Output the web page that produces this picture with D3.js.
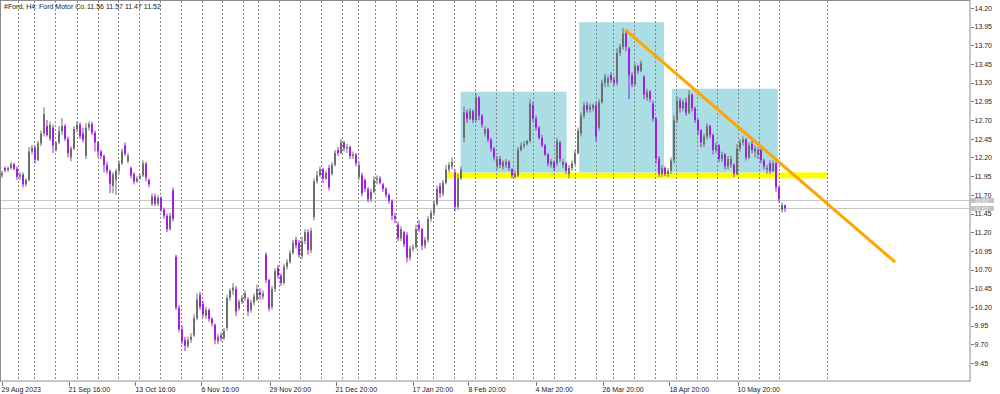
<!DOCTYPE html>
<html>
<head>
<meta charset="utf-8">
<script src="https://cdn.jsdelivr.net/npm/d3@7"></script>
<style>
  body { margin: 0; background: #ffffff; }
  svg { display: block; font-family: "Liberation Sans", Arial, sans-serif; }
  .axis text { fill: #1a1a1a; font-size: 7px; }
  .axis line { stroke: #7a7a7a; shape-rendering: crispEdges; }
</style>
</head>
<body>
<div id="chart"></div>
<script>
// Ford Motor Co. H4 bars: [open, high, low, close]
const ohlc = [
  [11.96,12.02,11.93,11.99],[12.06,12.08,12.00,12.03],[12.03,12.08,12.01,12.06],[12.06,12.14,12.04,12.11],
  [12.11,12.13,12.03,12.05],[12.05,12.08,11.90,11.94],[11.94,12.00,11.90,11.97],[11.97,12.00,11.80,11.84],
  [11.84,11.92,11.81,11.90],[11.90,12.34,11.88,12.28],[12.28,12.37,12.24,12.33],[12.33,12.36,12.12,12.17],
  [12.17,12.42,12.15,12.39],[12.39,12.56,12.35,12.52],[12.52,12.87,12.48,12.78],[12.62,12.70,12.48,12.50],
  [12.45,12.68,12.42,12.64],[12.60,12.64,12.26,12.36],[12.30,12.42,12.28,12.40],[12.40,12.62,12.38,12.55],
  [12.55,12.73,12.50,12.62],[12.62,12.65,12.42,12.45],[12.45,12.48,12.20,12.26],[12.20,12.35,12.15,12.32],
  [12.32,12.62,12.30,12.58],[12.58,12.68,12.54,12.64],[12.64,12.67,12.45,12.48],[12.52,12.60,12.40,12.44],
  [12.22,12.66,12.18,12.60],[12.60,12.68,12.56,12.65],[12.65,12.68,12.50,12.53],[12.53,12.56,12.28,12.40],
  [12.40,12.42,12.20,12.28],[12.28,12.30,12.18,12.22],[12.22,12.24,12.00,12.10],[12.10,12.14,11.98,12.02],
  [12.02,12.04,11.72,11.85],[11.82,12.00,11.72,11.97],[11.90,12.05,11.70,12.02],[12.02,12.16,11.98,12.12],
  [12.12,12.32,12.10,12.28],[12.36,12.40,12.22,12.25],[12.15,12.26,12.12,12.22],[12.06,12.08,11.92,11.96],
  [11.98,12.00,11.84,11.88],[11.88,11.95,11.86,11.92],[11.92,11.98,11.90,11.95],[11.96,12.16,11.94,12.12],
  [12.12,12.14,11.88,11.93],[11.90,11.92,11.80,11.84],[11.58,11.72,11.55,11.68],[11.68,11.72,11.55,11.58],
  [11.58,11.70,11.55,11.66],[11.66,11.68,11.47,11.50],[11.50,11.53,11.38,11.42],[11.42,11.45,11.20,11.24],
  [11.24,11.46,11.22,11.42],[11.76,11.80,11.34,11.38],[10.87,10.90,10.16,10.19],[10.19,10.22,9.86,9.90],
  [9.90,9.95,9.70,9.74],[9.76,9.80,9.61,9.68],[9.68,9.80,9.65,9.76],[9.76,9.85,9.72,9.80],
  [9.82,10.10,9.80,10.05],[10.05,10.38,10.02,10.30],[10.36,10.40,10.16,10.20],[10.24,10.28,10.06,10.10],
  [10.08,10.20,10.04,10.16],[10.16,10.18,10.00,10.04],[10.04,10.06,9.94,9.98],[9.96,9.98,9.70,9.76],
  [9.74,9.84,9.70,9.80],[9.82,9.86,9.74,9.78],[9.78,9.92,9.76,9.88],[9.92,10.36,9.88,10.32],
  [10.32,10.45,10.28,10.42],[10.42,10.52,10.36,10.46],[10.44,10.48,10.08,10.14],[10.18,10.30,10.15,10.27],
  [10.27,10.36,10.24,10.32],[10.32,10.42,10.28,10.38],[10.30,10.33,10.08,10.14],[10.16,10.30,10.12,10.26],
  [10.26,10.38,10.22,10.34],[10.30,10.50,10.28,10.44],[10.40,10.45,10.30,10.36],[10.34,10.42,10.30,10.38],
  [10.90,10.93,10.52,10.56],[10.56,10.58,10.14,10.18],[10.20,10.48,10.16,10.44],[10.44,10.72,10.40,10.68],
  [10.72,10.76,10.58,10.62],[10.62,10.65,10.48,10.52],[10.52,10.78,10.50,10.74],[10.74,10.84,10.70,10.80],
  [10.80,10.96,10.78,10.92],[10.92,11.10,10.90,11.06],[11.10,11.14,10.98,11.02],[11.06,11.10,10.86,10.90],
  [10.88,11.14,10.84,11.08],[11.08,11.24,11.04,11.20],[11.20,11.24,10.90,10.96],[10.96,11.26,10.92,11.22],
  [11.40,11.92,11.36,11.88],[11.88,12.02,11.85,11.96],[11.96,12.08,11.94,12.04],[12.04,12.06,11.86,11.92],
  [11.92,12.02,11.90,11.99],[12.06,12.10,11.76,11.80],[11.98,12.14,11.96,12.10],[12.10,12.30,12.08,12.26],
  [12.30,12.34,12.22,12.26],[12.26,12.45,12.24,12.40],[12.40,12.42,12.28,12.32],[12.32,12.38,12.26,12.34],
  [12.34,12.36,12.18,12.22],[12.22,12.28,12.18,12.24],[12.24,12.26,12.08,12.12],[11.94,12.14,11.90,12.10],
  [11.96,12.00,11.68,11.72],[11.90,11.92,11.74,11.78],[11.78,11.80,11.60,11.64],[11.64,11.78,11.60,11.74],
  [11.74,11.95,11.72,11.90],[11.90,11.96,11.84,11.92],[11.92,11.95,11.84,11.86],[11.84,11.86,11.74,11.78],
  [11.78,11.80,11.66,11.70],[11.70,11.72,11.58,11.62],[11.62,11.64,11.36,11.42],[11.42,11.46,11.32,11.38],
  [11.30,11.34,11.08,11.12],[11.12,11.28,11.08,11.24],[11.20,11.22,11.00,11.04],[11.16,11.20,10.80,10.86],
  [10.86,11.02,10.82,10.98],[10.98,11.04,10.94,11.00],[11.00,11.30,10.98,11.24],[11.30,11.36,11.20,11.24],
  [11.24,11.26,10.96,11.02],[11.02,11.14,10.98,11.10],[11.10,11.42,11.06,11.38],[11.38,11.50,11.34,11.46],
  [11.46,11.62,11.42,11.58],[11.58,11.82,11.55,11.78],[11.82,11.86,11.66,11.72],[11.72,11.90,11.68,11.86],
  [11.86,12.10,11.84,12.04],[12.04,12.14,12.00,12.10],[12.08,12.20,12.04,12.14],[12.00,12.04,11.48,11.54],
  [11.54,11.98,11.50,11.92],[11.92,12.08,11.90,12.04],[12.46,12.88,12.40,12.80],[12.80,12.84,12.66,12.72],
  [12.72,12.86,12.70,12.82],[12.82,12.84,12.66,12.70],[12.70,13.06,12.68,13.00],[13.00,13.02,12.70,12.76],
  [12.76,12.78,12.60,12.64],[12.52,12.62,12.48,12.58],[12.58,12.60,12.40,12.44],[12.44,12.46,12.28,12.32],
  [12.32,12.34,12.16,12.20],[12.08,12.22,12.04,12.18],[12.18,12.22,12.06,12.10],[12.08,12.16,12.04,12.14],
  [12.10,12.18,12.06,12.14],[12.14,12.16,12.02,12.06],[12.04,12.06,11.92,11.96],[11.94,12.02,11.92,11.98],
  [11.96,12.34,11.94,12.30],[12.30,12.40,12.28,12.36],[12.36,12.42,12.32,12.38],[12.38,12.44,12.36,12.42],
  [12.42,12.98,12.40,12.92],[12.90,12.94,12.68,12.72],[12.72,12.76,12.56,12.60],[12.60,12.62,12.44,12.46],
  [12.46,12.50,12.34,12.36],[12.36,12.38,12.22,12.24],[12.24,12.26,12.08,12.12],[12.10,12.18,12.06,12.15],
  [12.14,12.16,12.02,12.06],[12.12,12.46,12.08,12.42],[12.40,12.42,12.14,12.18],[12.10,12.18,12.06,12.14],
  [12.12,12.14,11.98,12.02],[11.98,12.10,11.92,12.06],[12.06,12.16,12.02,12.12],[12.12,12.30,12.10,12.26],
  [12.26,12.60,12.24,12.56],[12.52,12.80,12.48,12.76],[12.76,12.94,12.72,12.90],[12.90,12.94,12.80,12.84],
  [12.84,12.92,12.80,12.88],[12.86,12.92,12.82,12.90],[12.90,12.94,12.42,12.48],[12.60,12.98,12.56,12.94],
  [12.94,13.24,12.92,13.20],[13.20,13.32,13.14,13.28],[13.20,13.30,13.14,13.26],[13.30,13.34,13.20,13.24],
  [13.24,13.28,13.16,13.20],[13.20,13.66,13.16,13.60],[13.60,13.72,13.56,13.68],[13.68,13.93,13.64,13.86],
  [13.86,13.88,13.62,13.68],[13.66,13.68,12.98,13.30],[13.30,13.34,13.14,13.18],[13.18,13.46,13.16,13.42],
  [13.42,13.44,13.32,13.36],[13.36,13.50,13.34,13.46],[13.28,13.30,12.98,13.04],[13.00,13.12,12.96,13.08],
  [13.08,13.10,12.94,12.98],[12.92,12.96,12.68,12.72],[12.72,12.74,12.12,12.18],[12.18,12.22,11.94,11.98],
  [11.98,12.10,11.94,12.06],[12.06,12.08,11.95,11.98],[11.98,12.06,11.94,12.02],[12.02,12.20,11.98,12.16],
  [12.16,12.76,12.12,12.70],[12.70,13.02,12.66,12.96],[12.96,13.00,12.80,12.86],[12.86,12.98,12.82,12.94],
  [12.94,13.00,12.76,12.80],[12.80,13.10,12.78,13.04],[13.04,13.06,12.82,12.86],[12.86,12.88,12.66,12.70],
  [12.70,12.72,12.50,12.56],[12.56,12.58,12.34,12.40],[12.38,12.52,12.34,12.48],[12.48,12.66,12.44,12.62],
  [12.62,12.64,12.46,12.50],[12.50,12.52,12.24,12.30],[12.30,12.40,12.26,12.36],[12.36,12.38,12.14,12.18],
  [12.18,12.28,12.14,12.24],[12.24,12.26,12.04,12.08],[12.08,12.22,12.04,12.18],[12.10,12.22,12.06,12.18],
  [12.10,12.12,11.94,11.98],[11.98,12.38,11.96,12.32],[12.32,12.44,12.28,12.40],[12.40,12.48,12.36,12.44],
  [12.44,12.46,12.16,12.20],[12.20,12.40,12.18,12.36],[12.38,12.42,12.26,12.30],[12.28,12.36,12.20,12.32],
  [12.24,12.34,12.18,12.30],[12.30,12.32,12.12,12.16],[12.16,12.18,12.04,12.08],[12.04,12.10,11.98,12.06],
  [12.12,12.16,11.98,12.02],[12.02,12.16,12.00,12.12],[12.12,12.14,11.74,11.80],[11.80,11.82,11.60,11.64],
  [11.50,11.60,11.46,11.56],[11.56,11.57,11.47,11.52]
];

// Time scale labels and the bar they sit on
const dateLabels = ["29 Aug 2023", "21 Sep 16:00", "13 Oct 16:00", "6 Nov 16:00", "29 Nov 20:00", "21 Dec 20:00",
  "17 Jan 20:00", "8 Feb 20:00", "4 Mar 20:00", "26 Mar 20:00", "18 Apr 20:00", "10 May 20:00"];
const dateLabelBars = [-0.3, 22, 44.3, 66.3, 89, 111, 136.7, 155.3, 177.7, 200, 222.3, 245];

// Week separators (dotted grid), in bar units
const weekStartBars = [5.3, 10.7, 17.7, 25, 32, 38.7, 45.7, 52.7, 59.7, 66.7, 73.3, 80.3, 85.3, 92.3, 99.3,
  106.3, 113.3, 118.7, 124.3, 131.3, 138.3, 143.7, 150.7, 157.7, 164.7, 170.3, 177, 184, 191, 198, 203.7,
  210.7, 217.7, 224.7, 231.7, 238.3, 245.3, 252.3, 259, 275];

// Price scale labels
const priceTicks = [14.20, 13.95, 13.70, 13.45, 13.20, 12.95, 12.70, 12.45, 12.20, 11.95, 11.70,
  11.45, 11.20, 10.95, 10.70, 10.45, 10.20, 9.95, 9.70, 9.45];

// Bid / ask lines
const quoteLevels = [11.63, 11.52];

// Drawn objects: [fromBar, toBar, lowPrice, highPrice]
const patternBoxes = [[152.9, 188.2, 12.00, 13.08], [192.4, 220.7, 12.00, 14.01], [223.3, 258.6, 12.00, 13.12]];
const necklineBand = [148.3, 275, 11.92, 12.00];
// Trend line: [bar, price]
const trendLine = [[207.7, 13.91], [297.7, 10.80]];

const symbolName = "#Ford, H4:";
const companyName = "Ford Motor Co.";


/*******************************/
/*    Declare the constants    */
/*******************************/
const width = 1000;
const height = 394;
const plotRight = 970;
const plotBottom = 381;
const bullColor = "#6e6e6e";
const bearColor = "#a21ee6";
const boxColor = "#abdde4";
const bandColor = "#ffff00";
const trendColor = "#ffa500";
const gridColor = "#8a8a8a";
const frameColor = "#8c8c8c";


/*******************************/
/*    Append the containers    */
/*******************************/
const svg = d3.select("#chart")
  .append("svg")
    .attr("width", width)
    .attr("height", height)
    .attr("viewBox", `0 0 ${width} ${height}`);

svg
  .append("rect")
    .attr("width", width)
    .attr("height", height)
    .attr("fill", "#ffffff");

const plot = svg
  .append("g");


/****************************/
/*    Declare the scales    */
/****************************/
const xScale = d3.scaleLinear()
  .domain([0, ohlc.length - 1])
  .range([2, 2 + 3 * (ohlc.length - 1)]);

const yScale = d3.scaleLinear()
  .domain([9.45, 14.20])
  .range([363, 8]);


/******************************/
/*      Add the objects       */
/******************************/
plot
  .append("rect")
    .attr("x", xScale(necklineBand[0]))
    .attr("y", yScale(necklineBand[3]))
    .attr("width", xScale(necklineBand[1]) - xScale(necklineBand[0]))
    .attr("height", yScale(necklineBand[2]) - yScale(necklineBand[3]))
    .attr("fill", bandColor);

plot.selectAll(".pattern-box")
  .data(patternBoxes)
  .join("rect")
    .attr("class", "pattern-box")
    .attr("x", d => xScale(d[0]))
    .attr("y", d => yScale(d[3]))
    .attr("width", d => xScale(d[1]) - xScale(d[0]))
    .attr("height", d => yScale(d[2]) - yScale(d[3]))
    .attr("fill", boxColor);

// Dotted week separators
plot.selectAll(".week-line")
  .data(weekStartBars)
  .join("line")
    .attr("class", "week-line")
    .attr("x1", d => Math.round(xScale(d)) + 0.5)
    .attr("x2", d => Math.round(xScale(d)) + 0.5)
    .attr("y1", 1)
    .attr("y2", plotBottom)
    .attr("stroke", gridColor)
    .attr("stroke-dasharray", "2,2");

// Bid / ask lines
plot.selectAll(".quote-line")
  .data(quoteLevels)
  .join("line")
    .attr("class", "quote-line")
    .attr("x1", 0)
    .attr("x2", plotRight)
    .attr("y1", d => Math.round(yScale(d)) + 0.5)
    .attr("y2", d => Math.round(yScale(d)) + 0.5)
    .attr("stroke", "#c8c8c8");


/******************************/
/*      Add the candles       */
/******************************/
const isBull = d => d[3] >= d[0];

const candles = plot.selectAll(".candle")
  .data(ohlc)
  .join("g")
    .attr("class", "candle");

candles
  .append("line")
    .attr("x1", (d, i) => xScale(i))
    .attr("x2", (d, i) => xScale(i))
    .attr("y1", d => yScale(d[1]))
    .attr("y2", d => yScale(d[2]))
    .attr("stroke", d => isBull(d) ? bullColor : bearColor)
    .attr("stroke-width", 1);

candles
  .append("rect")
    .attr("x", (d, i) => xScale(i) - 1)
    .attr("y", d => yScale(Math.max(d[0], d[3])))
    .attr("width", 2)
    .attr("height", d => Math.max(1, Math.abs(yScale(d[0]) - yScale(d[3]))))
    .attr("fill", d => isBull(d) ? bullColor : bearColor);

// Trend line
plot
  .append("line")
    .attr("x1", xScale(trendLine[0][0]))
    .attr("y1", yScale(trendLine[0][1]))
    .attr("x2", xScale(trendLine[1][0]))
    .attr("y2", yScale(trendLine[1][1]))
    .attr("stroke", trendColor)
    .attr("stroke-width", 3);


/**************************/
/*      Add the axes      */
/**************************/
svg
  .append("rect")
    .attr("x", 0.5)
    .attr("y", 0.5)
    .attr("width", plotRight - 0.5)
    .attr("height", plotBottom - 0.5)
    .attr("fill", "none")
    .attr("stroke", frameColor);

const rightAxis = d3.axisRight(yScale)
  .tickValues(priceTicks)
  .tickFormat(d3.format(".2f"))
  .tickSize(3)
  .tickPadding(1);
svg
  .append("g")
    .attr("class", "axis")
    .attr("transform", `translate(${plotRight + 0.5}, 0)`)
    .call(rightAxis)
    .call(g => g.select(".domain").remove());

const bottomAxis = d3.axisBottom(xScale)
  .tickValues(dateLabelBars)
  .tickFormat((d, i) => dateLabels[i])
  .tickSize(4)
  .tickPadding(2);
svg
  .append("g")
    .attr("class", "axis")
    .attr("transform", `translate(0.5, ${plotBottom + 0.5})`)
    .call(bottomAxis)
    .call(g => g.select(".domain").remove())
    .call(g => g.selectAll("text").attr("text-anchor", "start").attr("dx", "-0.5"));

// Quote labels on the price scale
const quoteTags = svg.selectAll(".quote-tag")
  .data(quoteLevels)
  .join("g")
    .attr("class", "quote-tag")
    .attr("transform", d => `translate(${plotRight + 1}, ${Math.round(yScale(d))})`);
quoteTags
  .append("rect")
    .attr("x", 0)
    .attr("y", -2)
    .attr("width", 23)
    .attr("height", 5)
    .attr("fill", "#c4c4c4");
quoteTags
  .append("text")
    .attr("x", 4)
    .attr("y", 2.6)
    .attr("font-size", "5.5px")
    .attr("fill", "#f2f2f2")
    .text(d => d.toFixed(2));

// Title
const lastBar = ohlc[ohlc.length - 1];
const title = svg
  .append("text")
    .attr("y", 9)
    .attr("font-size", "7px")
    .attr("fill", "#1a1a1a");
title.append("tspan").attr("x", 4).text(symbolName);
title.append("tspan").attr("x", 39).text(companyName);
title.append("tspan").attr("x", 87).text(lastBar.map(v => v.toFixed(2)).join(" "));
</script>
</body>
</html>
